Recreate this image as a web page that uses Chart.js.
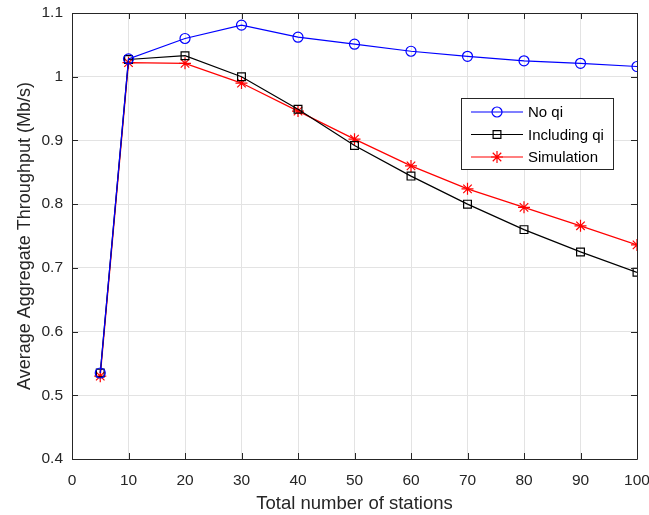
<!DOCTYPE html>
<html>
<head>
<meta charset="utf-8">
<script src="https://cdn.jsdelivr.net/npm/chart.js@4"></script>
<style>
  body { margin: 0; background: #fff; }
  #wrap { width: 649px; height: 515px; }
</style>
</head>
<body>
<div id="wrap"><canvas id="chart" width="649" height="515"></canvas></div>
<script>
// data
const stations = [5, 10, 20, 30, 40, 50, 60, 70, 80, 90, 100];
const noQi = [0.535, 1.028, 1.060, 1.081, 1.062, 1.051, 1.040, 1.032, 1.025, 1.021, 1.016];
const inclQi = [0.535, 1.027, 1.033, 1.000, 0.949, 0.892, 0.844, 0.800, 0.760, 0.725, 0.693];
const simulation = [0.530, 1.022, 1.021, 0.990, 0.946, 0.902, 0.860, 0.824, 0.795, 0.766, 0.736];
const seriesNames = ["No qi", "Including qi", "Simulation"];
const xTicks = [0, 10, 20, 30, 40, 50, 60, 70, 80, 90, 100];
const yTicks = [0.4, 0.5, 0.6, 0.7, 0.8, 0.9, 1, 1.1];

const axisColor = "#262626";
const font = "'Liberation Sans', Arial, sans-serif";

function pts(ys) {
  return stations.map((x, i) => ({ x: x, y: ys[i] }));
}

// MATLAB style box + inward ticks
const boxPlugin = {
  id: "box",
  afterDatasetsDraw(chart) {
    const { ctx, chartArea: a, scales } = chart;
    ctx.save();
    ctx.strokeStyle = axisColor;
    ctx.lineWidth = 1;
    ctx.beginPath();
    ctx.rect(a.left + 0.5, a.top + 0.5, a.right - a.left, a.bottom - a.top);
    ctx.stroke();
    ctx.beginPath();
    xTicks.forEach(v => {
      const px = Math.round(scales.x.getPixelForValue(v)) + 0.5;
      ctx.moveTo(px, a.bottom); ctx.lineTo(px, a.bottom - 6);
      ctx.moveTo(px, a.top); ctx.lineTo(px, a.top + 6);
    });
    yTicks.forEach(v => {
      const py = Math.round(scales.y.getPixelForValue(v)) + 0.5;
      ctx.moveTo(a.left, py); ctx.lineTo(a.left + 6, py);
      ctx.moveTo(a.right, py); ctx.lineTo(a.right - 6, py);
    });
    ctx.stroke();
    ctx.restore();
  }
};

// legend inside the axes, top right
const boxLegend = {
  id: "boxLegend",
  afterDraw(chart) {
    const ctx = chart.ctx;
    const x0 = 461, y0 = 98, w = 152, h = 71;
    ctx.save();
    ctx.fillStyle = "#fff";
    ctx.fillRect(x0, y0, w, h);
    ctx.strokeStyle = axisColor;
    ctx.lineWidth = 1;
    ctx.strokeRect(x0 + 0.5, y0 + 0.5, w, h);
    chart.data.datasets.forEach((ds, i) => {
      const y = y0 + 14 + i * 22.5;
      ctx.strokeStyle = ds.borderColor;
      ctx.lineWidth = 1.2;
      ctx.beginPath();
      ctx.moveTo(x0 + 10, y); ctx.lineTo(x0 + 62, y);
      ctx.stroke();
      ctx.fillStyle = "rgba(0,0,0,0)";
      Chart.helpers.drawPoint(ctx, {
        pointStyle: ds.pointStyle, radius: ds.pointRadius, borderWidth: 1.2
      }, x0 + 36, y);
      ctx.fillStyle = "#000";
      ctx.font = "15px " + font;
      ctx.textBaseline = "middle";
      ctx.fillText(seriesNames[i], x0 + 67, y + 1);
    });
    ctx.restore();
  }
};

function noPad(s) {
  s.paddingTop = 0; s.paddingBottom = 0; s.paddingLeft = 0; s.paddingRight = 0;
}

new Chart("chart", {
  type: "line",
  data: {
    datasets: [{
      label: seriesNames[0],
      data: pts(noQi),
      borderColor: "#0000ff",
      backgroundColor: "rgba(0,0,0,0)",
      pointStyle: "circle",
      pointRadius: 5,
      borderWidth: 1.2
    }, {
      label: seriesNames[1],
      data: pts(inclQi),
      borderColor: "#000000",
      backgroundColor: "rgba(0,0,0,0)",
      pointStyle: "rect",
      pointRadius: 5.5,
      borderWidth: 1.2
    }, {
      label: seriesNames[2],
      data: pts(simulation),
      borderColor: "#ff0000",
      backgroundColor: "rgba(0,0,0,0)",
      pointStyle: "star",
      pointRadius: 6,
      borderWidth: 1.2
    }]
  },
  options: {
    responsive: false,
    animation: false,
    layout: { padding: { top: 13, right: 12, left: 10, bottom: 0 } },
    plugins: {
      legend: { display: false },
      tooltip: { enabled: false }
    },
    elements: { line: { tension: 0 }, point: { borderWidth: 1.2 } },
    scales: {
      x: {
        type: "linear",
        min: 0, max: 100,
        afterBuildTicks: s => { s.ticks = xTicks.map(v => ({ value: v })); },
        grid: { color: "#e3e3e3", drawTicks: false },
        border: { display: false },
        ticks: { color: axisColor, font: { family: font, size: 15.5 }, padding: 12 },
        title: { display: true, text: "Total number of stations", color: axisColor,
                 font: { family: font, size: 18.5 }, padding: { top: -4, bottom: 0 } },
        afterFit: s => { s.height = 56; noPad(s); }
      },
      y: {
        min: 0.4, max: 1.1,
        afterBuildTicks: s => { s.ticks = yTicks.map(v => ({ value: v })); },
        grid: { color: "#e3e3e3", drawTicks: false },
        border: { display: false },
        ticks: { color: axisColor, font: { family: font, size: 15.5 }, padding: 9,
                 callback: v => String(v) },
        title: { display: true, text: "Average Aggregate Throughput (Mb/s)", color: axisColor,
                 font: { family: font, size: 18 }, padding: { bottom: 2 } },
        afterFit: s => { s.width = 62; noPad(s); }
      }
    }
  },
  plugins: [boxPlugin, boxLegend]
});
</script>
</body>
</html>
